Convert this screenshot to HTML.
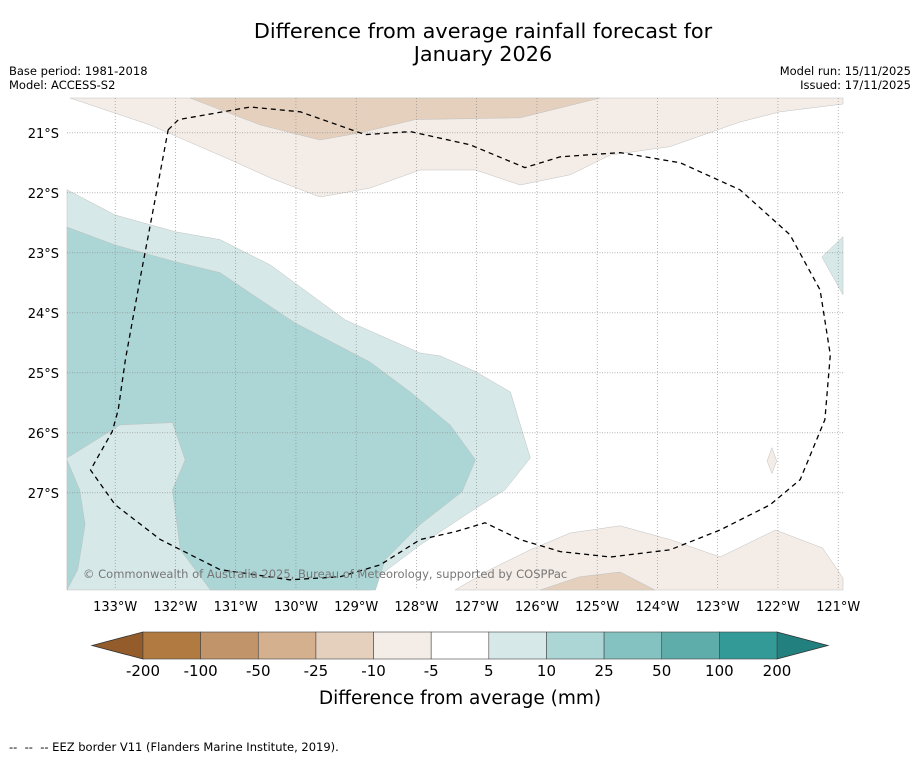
<!DOCTYPE html>
<html><head><meta charset="utf-8">
<style>
html,body{margin:0;padding:0;background:#fff;}
body{width:919px;height:758px;overflow:hidden;font-family:"DejaVu Sans","Liberation Sans",sans-serif;}
svg text{font-family:"DejaVu Sans","Liberation Sans",sans-serif;}
</style></head>
<body>
<svg id="chart" width="919" height="758" viewBox="0 0 919 758" xmlns="http://www.w3.org/2000/svg">
<text x="483" y="38" font-size="20.8" text-anchor="middle">Difference from average rainfall forecast for</text>
<text x="483" y="61" font-size="20.8" text-anchor="middle">January 2026</text>
<text x="9" y="75" font-size="11.5">Base period: 1981-2018</text>
<text x="9" y="89" font-size="11.5">Model: ACCESS-S2</text>
<text x="911" y="75" font-size="11.5" text-anchor="end">Model run: 15/11/2025</text>
<text x="911" y="89" font-size="11.5" text-anchor="end">Issued: 17/11/2025</text>
<g id="map"></g>
<g id="cbar"></g>
<text x="460" y="704" font-size="18.5" text-anchor="middle">Difference from average (mm)</text>
<text x="9" y="751" font-size="11.5" style="white-space:pre" xml:space="preserve">--  --  -- EEZ border V11 (Flanders Marine Institute, 2019).</text>
</svg>
<script>
// Axis domain
const lonTicks = [-133,-132,-131,-130,-129,-128,-127,-126,-125,-124,-123,-122,-121];
const latTicks = [-21,-22,-23,-24,-25,-26,-27];
// Colorbar data
const levelLabels = ["-200","-100","-50","-25","-10","-5","5","10","25","50","100","200"];
const levelColors = ["#b07a40","#c19469","#d4b08f","#e4d0bd","#f4ede7","#ffffff","#d6e9e8","#acd5d5","#84c2c1","#5eadab","#349a97"];
const extendLowColor = "#935c2a";
const extendHighColor = "#22807e";
// Contour regions (lon, lat)
const regionTopLight = [[-133.75,-20.42],[-132.42,-20.87],[-131.09,-21.45],[-130.43,-21.75],[-129.6,-22.07],[-128.77,-21.92],[-127.94,-21.62],[-127.02,-21.62],[-126.28,-21.87],[-125.45,-21.7],[-124.78,-21.37],[-123.79,-21.23],[-122.63,-20.82],[-121.96,-20.65],[-120.92,-20.52],[-120.92,-20.42]];
const regionTopDark = [[-131.76,-20.42],[-130.59,-20.87],[-129.6,-21.12],[-128.93,-21.0],[-128.02,-20.78],[-126.28,-20.75],[-124.95,-20.42]];
const regionBottomLight = [[-127.36,-28.62],[-126.78,-28.28],[-126.11,-27.95],[-125.45,-27.67],[-124.62,-27.55],[-123.79,-27.78],[-122.96,-28.07],[-122.04,-27.62],[-121.26,-27.92],[-120.92,-28.42],[-120.92,-28.62]];
const regionBottomDark = [[-125.95,-28.62],[-125.29,-28.4],[-124.62,-28.32],[-124.04,-28.62]];
const regionDiamond = [[-122.1,-26.25],[-122.18,-26.47],[-122.1,-26.68],[-122.02,-26.47]];
const regionTealLight = [[-133.8,-21.95],[-133.0,-22.37],[-132.0,-22.65],[-131.26,-22.78],[-130.43,-23.2],[-129.18,-24.12],[-127.94,-24.67],[-127.6,-24.72],[-127.02,-24.98],[-126.44,-25.32],[-126.11,-26.42],[-126.53,-26.95],[-127.11,-27.32],[-127.94,-27.87],[-128.6,-28.37],[-128.77,-28.62],[-133.8,-28.62]];
const regionTealMid = [[-133.8,-22.57],[-133.0,-22.87],[-132.0,-23.15],[-131.26,-23.33],[-130.76,-23.67],[-130.01,-24.17],[-128.77,-24.82],[-128.1,-25.32],[-127.44,-25.87],[-127.02,-26.45],[-127.24,-26.98],[-127.94,-27.53],[-128.52,-28.12],[-128.68,-28.62],[-131.42,-28.62],[-131.92,-27.95],[-132.05,-26.95],[-131.84,-26.45],[-132.05,-25.83],[-132.92,-25.87],[-133.8,-26.42]];
const regionTealStrip = [[-133.8,-26.45],[-133.59,-26.95],[-133.5,-27.53],[-133.62,-28.28],[-133.8,-28.62]];
const regionTealRight = [[-120.92,-22.73],[-121.27,-23.07],[-120.92,-23.7]];
const eezBorder = [[-132.12,-20.95],[-131.95,-20.78],[-130.76,-20.57],[-129.93,-20.65],[-128.85,-21.03],[-128.1,-20.98],[-127.11,-21.2],[-126.2,-21.58],[-125.61,-21.4],[-124.62,-21.33],[-123.62,-21.5],[-122.63,-21.95],[-121.8,-22.7],[-121.3,-23.62],[-121.13,-24.7],[-121.22,-25.78],[-121.63,-26.78],[-122.13,-27.2],[-122.96,-27.62],[-123.79,-27.95],[-124.78,-28.07],[-125.61,-27.98],[-126.28,-27.78],[-126.86,-27.5],[-127.36,-27.65],[-127.94,-27.78],[-128.6,-28.2],[-129.27,-28.4],[-130.1,-28.45],[-131.26,-28.28],[-132.25,-27.78],[-133.0,-27.2],[-133.41,-26.62],[-133.05,-25.98],[-132.95,-25.62],[-132.83,-24.78],[-132.59,-23.45],[-132.34,-22.12],[-132.12,-20.95]];

const NS="http://www.w3.org/2000/svg";
const X0=67,X1=843,Y0=98,Y1=590;
const lonMin=-133.8,lonMax=-120.92,latMax=-20.42,latMin=-28.62;
function xScale(lon){return X0+(lon-lonMin)/(lonMax-lonMin)*(X1-X0);}
function yScale(lat){return Y0+(latMax-lat)/(latMax-latMin)*(Y1-Y0);}
function mk(tag,attrs,parent){const e=document.createElementNS(NS,tag);for(const k in attrs)e.setAttribute(k,attrs[k]);parent.appendChild(e);return e;}
function pts(arr){return arr.map(p=>xScale(p[0]).toFixed(1)+","+yScale(p[1]).toFixed(1)).join(" ");}
const map=document.getElementById('map');
const regions=[[regionTopLight,4,'region-top-light-brown'],[regionTopDark,3,'region-top-brown'],[regionBottomLight,4,'region-bottom-light-brown'],[regionBottomDark,3,'region-bottom-brown'],[regionDiamond,4,'region-small-brown'],[regionTealLight,6,'region-light-teal'],[regionTealMid,7,'region-teal'],[regionTealStrip,7,'region-teal-strip'],[regionTealRight,6,'region-right-teal']];
regions.forEach(r=>{
  const p=mk('polygon',{points:pts(r[0]),fill:levelColors[r[1]],stroke:"#c0c0c0","stroke-width":"0.5"},map);
  
  
});
lonTicks.forEach(l=>{
  const x=xScale(l);
  const ln=mk('line',{x1:x,x2:x,y1:Y0,y2:Y1,stroke:"#888","stroke-width":"0.6","stroke-dasharray":"1,2"},map);
  
  
  const t=mk('text',{x:x,y:611,"font-size":"13","text-anchor":"middle"},map);
  t.textContent=Math.abs(l)+"°W";
  
  
});
latTicks.forEach(l=>{
  const y=yScale(l);
  const ln=mk('line',{x1:X0,x2:X1,y1:y,y2:y,stroke:"#888","stroke-width":"0.6","stroke-dasharray":"1,1.5"},map);
  
  
  const t=mk('text',{x:59,y:y+5,"font-size":"13","text-anchor":"end"},map);
  t.textContent=Math.abs(l)+"°S";
  
  
});
const eez=mk('polyline',{points:pts(eezBorder),fill:"none",stroke:"#000","stroke-width":"1.3","stroke-dasharray":"5,4","stroke-linejoin":"round"},map);


const cp=mk('text',{x:83,y:578,"font-size":"11.5",fill:"#777"},map);
cp.textContent="© Commonwealth of Australia 2025, Bureau of Meteorology, supported by COSPPac";



const cb=document.getElementById('cbar');
const CB0=143,CB1=777,CBY=632,CBH=27;
const w=(CB1-CB0)/levelColors.length;
const lo=mk('polygon',{points:`92,${CBY+CBH/2} ${CB0},${CBY} ${CB0},${CBY+CBH}`,fill:extendLowColor,stroke:"#333","stroke-width":"0.8"},cb);


const hi=mk('polygon',{points:`828,${CBY+CBH/2} ${CB1},${CBY} ${CB1},${CBY+CBH}`,fill:extendHighColor,stroke:"#333","stroke-width":"0.8"},cb);


levelColors.forEach((c,i)=>{
  const r=mk('rect',{x:CB0+i*w,y:CBY,width:w,height:CBH,fill:c,stroke:"#444","stroke-width":"0.6"},cb);
  
  
});
levelLabels.forEach((s,i)=>{
  const t=mk('text',{x:CB0+i*w,y:676,"font-size":"15","text-anchor":"middle"},cb);
  t.textContent=s;
  
  
});
</script>
</body></html>
